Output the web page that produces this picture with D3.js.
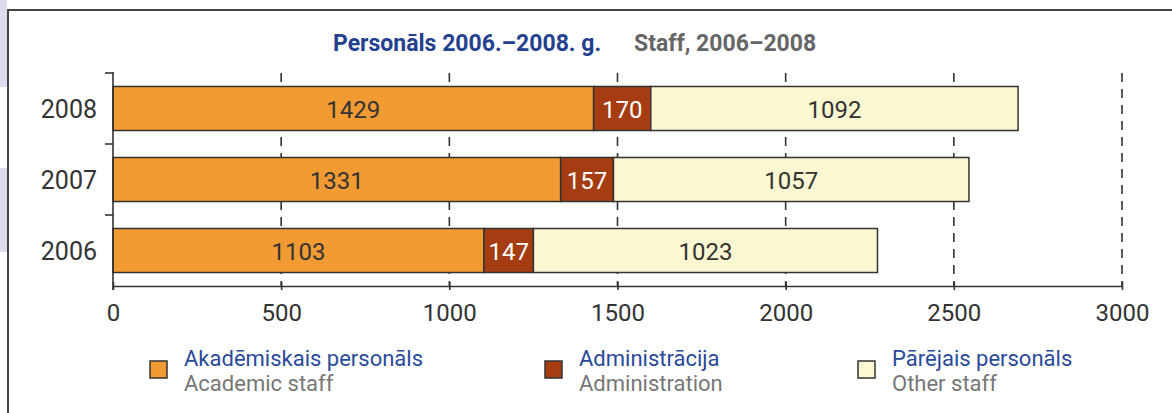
<!DOCTYPE html>
<html>
<head>
<meta charset="utf-8">
<script src="https://cdn.jsdelivr.net/npm/d3@7"></script>
<style>
  body { margin: 0; background: #fff; }
  svg { display: block; font-family: Roboto, "Liberation Sans", Arial, sans-serif; }
</style>
</head>
<body>
<div id="chart"></div>
<script>
// chart data
const years = ['2008', '2007', '2006'];
const academic = [1429, 1331, 1103];
const admin = [170, 157, 147];
const other = [1092, 1057, 1023];
const xTicks = [0, 500, 1000, 1500, 2000, 2500, 3000];
const seriesLv = ['Akadēmiskais personāls', 'Administrācija', 'Pārējais personāls'];
const seriesEn = ['Academic staff', 'Administration', 'Other staff'];

const w = 1172, h = 413;
const colors = ['#f39b33', '#a63c12', '#fbf7d1'];
const labelColors = ['#333', '#fff', '#333'];

const svg = d3.select('#chart').append('svg')
  .attr('width', w).attr('height', h);

// lavender side strips + frame
svg.append('rect').attr('x', 0).attr('y', 0).attr('width', 7).attr('height', 87).attr('fill', '#dcdcec');
svg.append('rect').attr('x', 0).attr('y', 168).attr('width', 7).attr('height', 84).attr('fill', '#dcdcec');
svg.append('path').attr('d', 'M8,' + h + 'V10H' + w)
  .attr('fill', 'none').attr('stroke', '#444').attr('stroke-width', 2);

const xScale = d3.scaleLinear().domain([0, 3000]).range([113, 1122]);
const yScale = d3.scaleBand().domain(years).range([73, 286])
  .paddingInner(0.38).paddingOuter(0.19);

// title
const title = svg.append('text')
  .attr('y', 51).attr('font-size', 23).attr('font-weight', 'bold');
title.append('tspan').attr('x', 333).attr('fill', '#23418f').text('Personāls 2006.–2008. g.');
title.append('tspan').attr('x', 634).attr('fill', '#666').text('Staff, 2006–2008');

// dashed grid
svg.append('g').selectAll('line')
  .data(xTicks.filter(d => d > 0))
  .enter().append('line')
  .attr('x1', d => xScale(d)).attr('x2', d => xScale(d))
  .attr('y1', 73).attr('y2', 286)
  .attr('stroke', '#333').attr('stroke-width', 1.6)
  .attr('stroke-dasharray', '9,7');

// stacked bars
const rows = years.map((y, i) => ({ year: y, vals: [academic[i], admin[i], other[i]] }));
const segs = [];
rows.forEach(r => {
  let acc = 0;
  r.vals.forEach((v, k) => {
    segs.push({ year: r.year, k: k, v: v, x0: acc, x1: acc + v });
    acc += v;
  });
});

svg.append('g').selectAll('rect')
  .data(segs)
  .enter().append('rect')
  .attr('x', d => xScale(d.x0))
  .attr('y', d => yScale(d.year))
  .attr('width', d => xScale(d.x1) - xScale(d.x0))
  .attr('height', yScale.bandwidth())
  .attr('fill', d => colors[d.k])
  .attr('stroke', '#333').attr('stroke-width', 1.5);

svg.append('g').selectAll('text')
  .data(segs)
  .enter().append('text')
  .attr('x', d => (xScale(d.x0) + xScale(d.x1)) / 2)
  .attr('y', d => yScale(d.year) + yScale.bandwidth() / 2 + 9)
  .attr('text-anchor', 'middle')
  .attr('font-size', 24)
  .attr('fill', d => labelColors[d.k])
  .text(d => d.v);

// x axis
const xAxis = d3.axisBottom(xScale).tickValues(xTicks).tickFormat(d3.format('d'))
  .tickSize(4).tickSizeOuter(0);
const gx = svg.append('g')
  .attr('transform', 'translate(0,286)')
  .call(xAxis);
gx.select('.domain').attr('stroke', '#333').attr('stroke-width', 1.6);
gx.selectAll('.tick line').attr('y1', -4).attr('stroke', '#333').attr('stroke-width', 1.6);
gx.selectAll('.tick text').attr('y', 35).attr('dy', null)
  .attr('font-size', 24).attr('fill', '#333')
  .attr('font-family', 'Roboto, "Liberation Sans", Arial, sans-serif');

// y axis
svg.append('line').attr('x1', 113).attr('x2', 113).attr('y1', 72).attr('y2', 290)
  .attr('stroke', '#333').attr('stroke-width', 1.6);
const bounds = years.map(y => yScale(y) - yScale.step() * yScale.paddingOuter());
svg.append('g').selectAll('line')
  .data(bounds)
  .enter().append('line')
  .attr('x1', 105).attr('x2', 113)
  .attr('y1', d => d).attr('y2', d => d)
  .attr('stroke', '#333').attr('stroke-width', 1.6);
svg.append('g').selectAll('text')
  .data(years)
  .enter().append('text')
  .attr('x', 97)
  .attr('y', d => yScale(d) + yScale.bandwidth() / 2 + 9)
  .attr('text-anchor', 'end')
  .attr('font-size', 25)
  .attr('fill', '#333')
  .text(d => d);

// legend
const legX = [150, 545, 858];
const leg = svg.append('g').selectAll('g')
  .data(seriesLv)
  .enter().append('g')
  .attr('transform', (d, i) => 'translate(' + legX[i] + ',0)');
leg.append('rect').attr('x', 0).attr('y', 361).attr('width', 17).attr('height', 17)
  .attr('fill', (d, i) => colors[i]).attr('stroke', '#333').attr('stroke-width', 1.5);
leg.append('text')
  .attr('x', 34).attr('y', 366).attr('font-size', 22).attr('fill', '#2a4a9a')
  .text(d => d);
leg.append('text')
  .attr('x', 34).attr('y', 391).attr('font-size', 22).attr('fill', '#777')
  .text((d, i) => seriesEn[i]);
</script>
</body>
</html>
